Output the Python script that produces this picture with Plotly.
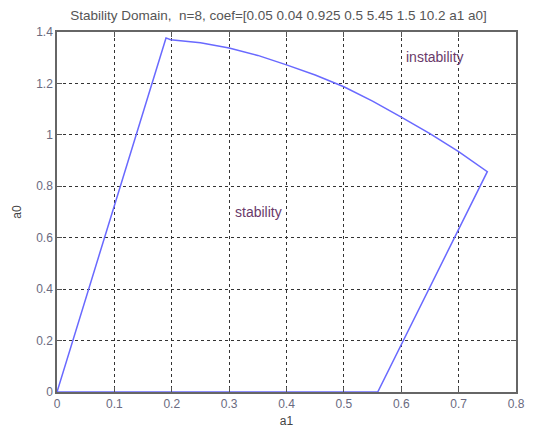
import plotly.graph_objects as go

# boundary of the stability domain (a1, a0)
a1 = [0.0, 0.190, 0.198, 0.25, 0.30, 0.35, 0.40, 0.45, 0.50, 0.55, 0.60, 0.65, 0.70, 0.750, 0.559, 0.0]
a0 = [0.0, 1.377, 1.370, 1.358, 1.338, 1.309, 1.272, 1.233, 1.187, 1.131, 1.069, 1.005, 0.935, 0.857, 0.0, 0.0]

x_ticks = [0, 0.1, 0.2, 0.3, 0.4, 0.5, 0.6, 0.7, 0.8]
x_tick_labels = ["0", "0.1", "0.2", "0.3", "0.4", "0.5", "0.6", "0.7", "0.8"]
y_ticks = [0, 0.2, 0.4, 0.6, 0.8, 1.0, 1.2, 1.4]
y_tick_labels = ["0", "0.2", "0.4", "0.6", "0.8", "1", "1.2", "1.4"]

labels = ["stability", "instability"]
label_x = [0.351, 0.658]
label_y = [0.700, 1.304]

FONT = "Arial, Liberation Sans, sans-serif"

fig = go.Figure()
fig.add_trace(go.Scatter(x=a1, y=a0, mode="lines",
                         line=dict(color="rgb(105,105,255)", width=1.5),
                         showlegend=False, hoverinfo="skip"))

for t, x, y in zip(labels, label_x, label_y):
    fig.add_annotation(x=x, y=y, text=t, showarrow=False,
                       font=dict(family=FONT, size=14, color="#6a3a6a"))

axis_common = dict(showline=True, linecolor="#666", linewidth=1.5, mirror="ticks",
                   ticks="inside", ticklen=5, tickcolor="#555",
                   showgrid=True, gridcolor="#333", griddash="dot", gridwidth=1,
                   zeroline=False, automargin=False,
                   tickfont=dict(family=FONT, size=12, color="#6a6a80"))

fig.update_layout(
    width=525, height=424,
    margin=dict(l=49, r=17, t=24, b=40),
    paper_bgcolor="white", plot_bgcolor="white",
    title=dict(text="Stability Domain,  n=8, coef=[0.05 0.04 0.925 0.5 5.45 1.5 10.2 a1 a0]",
               x=0.4826, xanchor="center", xref="paper", y=1, yref="container", yanchor="top",
               pad=dict(t=3),
               font=dict(family=FONT, size=13.5, color="#555")),
    xaxis=dict(range=[0, 0.8], tickvals=x_ticks, ticktext=x_tick_labels,
               title=dict(text="a1", standoff=6,
                          font=dict(family=FONT, size=12, color="#444")),
               **axis_common),
    yaxis=dict(range=[0, 1.4], tickvals=y_ticks, ticktext=y_tick_labels,
               title=dict(text="a0", standoff=12,
                          font=dict(family=FONT, size=12, color="#444")),
               **axis_common),
)

fig.write_html("out.html")
